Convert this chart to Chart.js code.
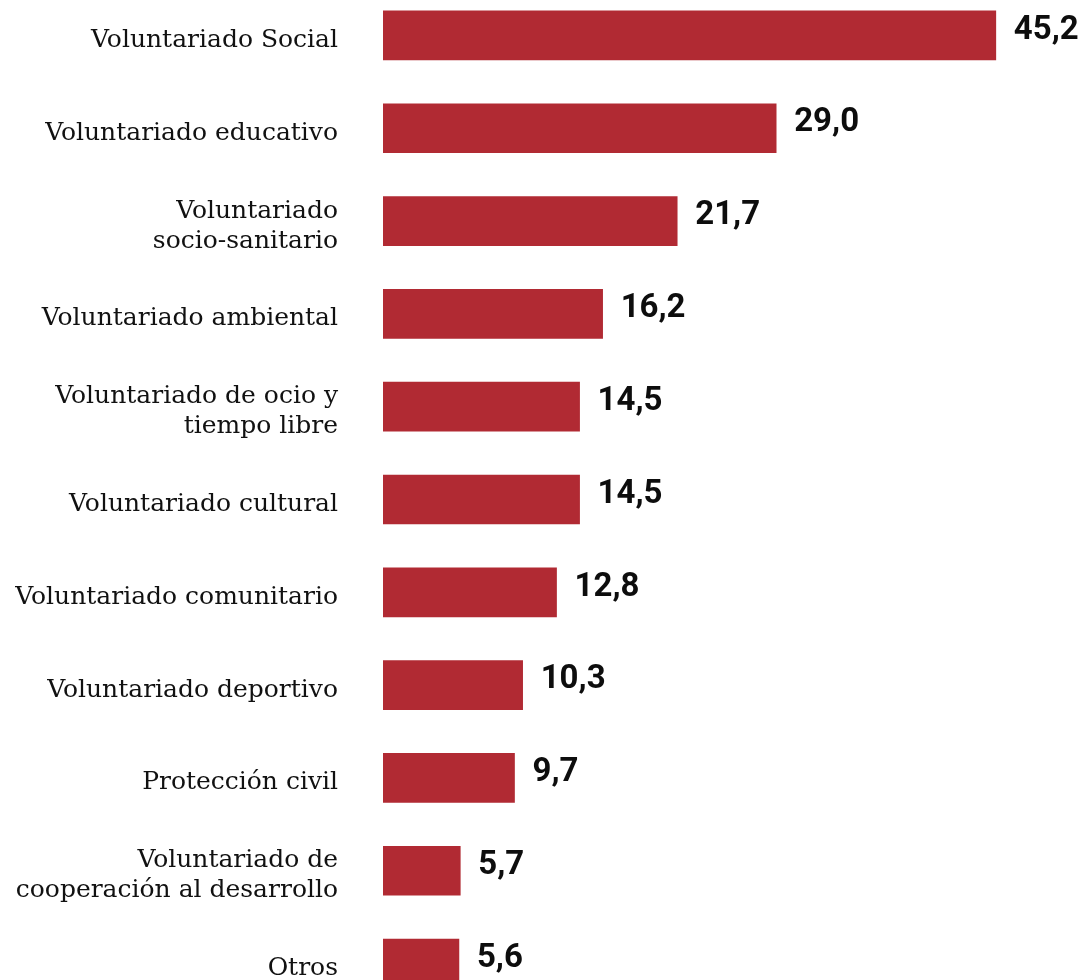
<!DOCTYPE html>
<html>
<head>
<meta charset="utf-8">
<script src="https://cdn.jsdelivr.net/npm/chart.js@4.4.1/dist/chart.umd.min.js"></script>
<style>
  html, body { margin:0; padding:0; background:#fff; overflow:hidden; }
  #wrap { position:absolute; left:0; top:-11px; width:1088px; height:1021px; }
</style>
</head>
<body>
<div id="wrap"><canvas id="chart"></canvas></div>
<script>
"use strict";

// categories (top to bottom) and their percentages
const categories = [
   "Voluntariado Social"
  ,"Voluntariado educativo"
  ,["Voluntariado", "socio-sanitario"]
  ,"Voluntariado ambiental"
  ,["Voluntariado de ocio y", "tiempo libre"]
  ,"Voluntariado cultural"
  ,"Voluntariado comunitario"
  ,"Voluntariado deportivo"
  ,"Protección civil"
  ,["Voluntariado de", "cooperación al desarrollo"]
  ,"Otros"
];
const values = [45.2, 29.0, 21.7, 16.2, 14.5, 14.5, 12.8, 10.3, 9.7, 5.7, 5.6];

const BAR_COLOR = "#b12a33";

// draws the value next to the end of each bar, with a decimal comma
const valueLabels = {
  id: "valueLabels",
  afterDatasetsDraw(chart) {
    const ctx = chart.ctx;
    const meta = chart.getDatasetMeta(0);
    ctx.save();
    ctx.font = "bold 33px Roboto";
    ctx.fillStyle = "#0d0d0d";
    ctx.textAlign = "left";
    ctx.textBaseline = "middle";
    meta.data.forEach((bar, i) => {
      const txt = values[i].toFixed(1).replace(".", ",");
      ctx.fillText(txt, bar.x + 18, bar.y - 5);
    });
    ctx.restore();
  }
};

// the category labels sit a little below the bar centre in the original
const nudgeLabels = {
  id: "nudgeLabels",
  afterLayout(chart) {
    const scale = chart.scales.y;
    scale._labelItems = null;
    scale.getLabelItems().forEach(item => { item.options.translation[1] += 5; });
  }
};

new Chart(document.getElementById("chart"), {
   type: "bar"
  ,data: {
     labels: categories
    ,datasets: [{
       data: values
      ,backgroundColor: BAR_COLOR
      ,borderWidth: 0
      ,barThickness: 49
    }]
  }
  ,options: {
     indexAxis: "y"
    ,responsive: true
    ,maintainAspectRatio: false
    ,animation: false
    ,layout: { padding: 0 }
    ,plugins: { legend: { display: false }, tooltip: { enabled: false } }
    ,scales: {
       x: { display: false, min: 0, max: 52 }
      ,y: {
         grid: { display: false, drawTicks: false }
        ,border: { display: false }
        ,ticks: {
           color: "#111"
          ,padding: 45
          ,font: { family: "'DejaVu Serif'", size: 25, lineHeight: 1.2 }
        }
        ,afterFit: function(scale) {
           scale.width = 383;
           scale.paddingTop = 0;
           scale.paddingBottom = 0;
         }
      }
    }
  }
  ,plugins: [valueLabels, nudgeLabels]
});
</script>
</body>
</html>
